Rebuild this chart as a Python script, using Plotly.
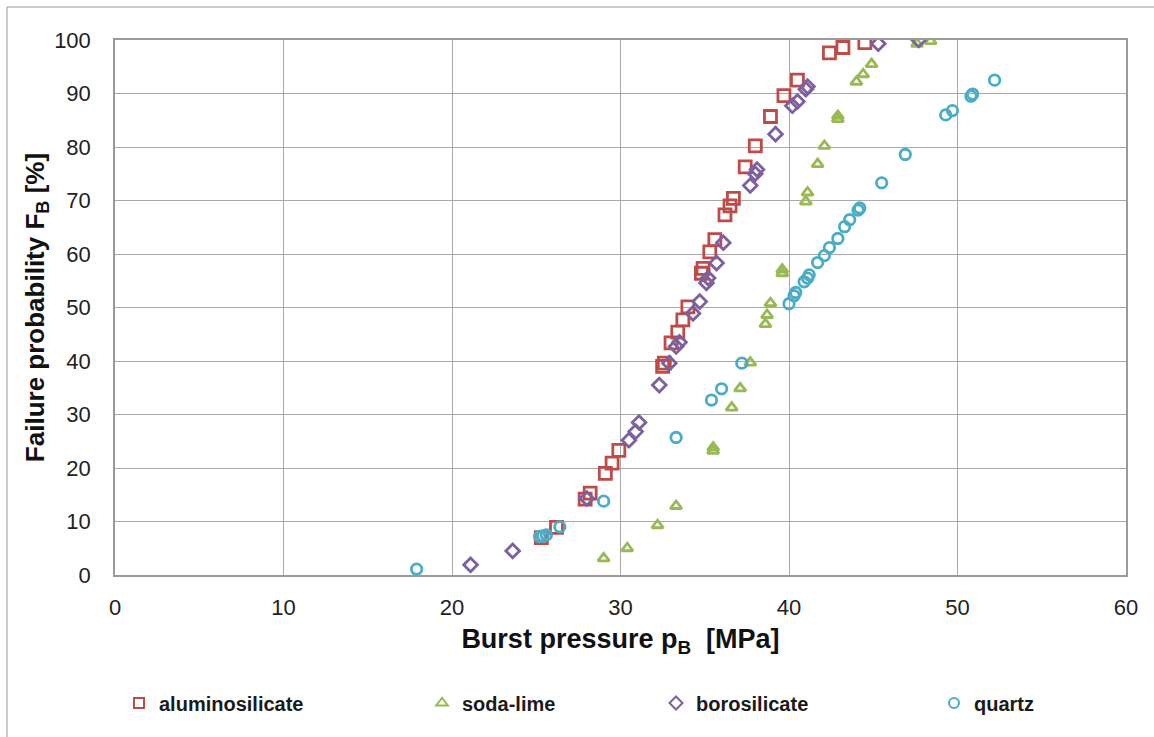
import plotly.graph_objects as go

# ---- data (burst pressure [MPa], failure probability [%]) ----
alu_p = [25.3, 26.2, 27.9, 28.2, 29.1, 29.5, 29.9, 32.5, 32.6, 33.0, 33.4, 33.7, 34.0,
         34.8, 34.9, 35.3, 35.6, 36.2, 36.5, 36.7, 37.4, 38.0, 38.9, 39.7, 40.5, 42.4,
         43.2, 44.5]
alu_f = [7.0, 8.9, 14.2, 15.3, 19.0, 20.9, 23.3, 39.0, 39.6, 43.4, 45.4, 47.7, 50.1,
         56.4, 57.3, 60.4, 62.7, 67.3, 69.0, 70.4, 76.3, 80.2, 85.7, 89.6, 92.5, 97.6,
         98.6, 99.5]

soda_p = [29.0, 30.4, 32.2, 33.3, 35.5, 35.5, 36.6, 37.1, 37.7, 38.6, 38.7, 38.9, 39.6,
          39.6, 41.0, 41.1, 41.7, 42.1, 42.9, 42.9, 44.0, 44.4, 44.9, 47.6, 48.4]
soda_f = [3.1, 5.0, 9.3, 12.9, 23.2, 23.8, 31.3, 34.9, 39.7, 46.9, 48.6, 50.8, 56.4,
          57.1, 69.8, 71.5, 76.8, 80.2, 85.2, 85.8, 92.2, 93.6, 95.5, 99.3, 99.8]

boro_p = [21.1, 23.6, 28.0, 30.5, 30.9, 31.1, 32.3, 32.9, 33.3, 33.5, 34.3, 34.7, 35.1,
          35.2, 35.7, 36.1, 37.7, 38.0, 38.1, 39.2, 40.2, 40.5, 41.0, 41.1, 45.3, 47.7]
boro_f = [1.9, 4.5, 14.3, 25.2, 26.8, 28.5, 35.5, 39.6, 42.7, 43.5, 48.9, 51.1, 54.6,
          55.5, 58.3, 62.1, 72.8, 75.0, 75.8, 82.4, 87.7, 88.5, 90.8, 91.3, 99.3, 100.0]

quartz_p = [17.9, 25.2, 25.4, 25.6, 26.4, 29.0, 33.3, 35.4, 36.0, 37.2, 40.0, 40.3,
            40.4, 40.9, 41.1, 41.2, 41.7, 42.1, 42.4, 42.9, 43.3, 43.6, 44.1, 44.2,
            45.5, 46.9, 49.3, 49.7, 50.8, 50.9, 52.2]
quartz_f = [1.1, 7.2, 7.3, 7.5, 9.0, 13.8, 25.7, 32.7, 34.8, 39.6, 50.7, 52.2, 52.8,
            54.8, 55.5, 56.1, 58.4, 59.7, 61.2, 62.9, 65.1, 66.4, 68.2, 68.6, 73.3,
            78.6, 86.0, 86.8, 89.5, 89.9, 92.5]

names = ["aluminosilicate", "soda-lime", "borosilicate", "quartz"]
x_ticks = [0, 10, 20, 30, 40, 50, 60]
y_ticks = [0, 10, 20, 30, 40, 50, 60, 70, 80, 90, 100]

series = [
    (alu_p, alu_f, "square-open", "#BE4B48", 12),
    (soda_p, soda_f, "triangle-up-open", "#98B954", 10),
    (boro_p, boro_f, "diamond-open", "#7D60A0", 10.5),
    (quartz_p, quartz_f, "circle-open", "#4BACC6", 10.5),
]

fig = go.Figure()
legend_ids = ["legend", "legend2", "legend3", "legend4"]
for (xs, ys, sym, col, sz), nm, lg in zip(series, names, legend_ids):
    fig.add_trace(go.Scatter(
        x=xs, y=ys, mode="markers", name=nm, showlegend=False,
        marker=dict(symbol=sym, size=sz, color=col, line=dict(color=col, width=2.8)),
    ))
    # legend entry with smaller symbol
    fig.add_trace(go.Scatter(
        x=[None], y=[None], mode="markers", name="<b>" + nm + "</b>", legend=lg,
        showlegend=True,
        marker=dict(symbol=sym, size=10, color=col, line=dict(color=col, width=2)),
    ))

W, H = 1154, 737
L, R, T, B = 115, 28, 40, 162
pw, ph = W - L - R, H - T - B


def px_x(p):
    return (p - L) / pw


def px_y(p):
    return (H - B - p) / ph


legend_font = dict(family="Liberation Sans, Arial, sans-serif", size=20, color="#1a1a1a")
leg_common = dict(orientation="h", xanchor="left", yanchor="middle",
                  font=legend_font, bgcolor="rgba(0,0,0,0)", borderwidth=0,
                  itemwidth=30, tracegroupgap=0)
leg_x = [119, 422, 656, 934]
layout_legends = {}
for lg, lx in zip(legend_ids, leg_x):
    layout_legends[lg] = dict(x=px_x(lx), y=px_y(703), **leg_common)

axis_font = dict(family="Liberation Sans, Arial, sans-serif", size=22, color="#222222")
xtitle_font = dict(family="Liberation Sans, Arial, sans-serif", size=27, color="#111111")
ytitle_font = dict(family="Liberation Sans, Arial, sans-serif", size=26, color="#111111")

fig.update_layout(
    width=W, height=H,
    margin=dict(l=L, r=R, t=T, b=B),
    paper_bgcolor="white", plot_bgcolor="white",
    xaxis=dict(range=[0, 60], tickvals=x_ticks, ticktext=[str(v) for v in x_ticks],
               showgrid=True, gridcolor="#A8A8A8", gridwidth=1,
               showline=True, linecolor="#9A9A9A", linewidth=1.5, mirror=True,
               zeroline=False, ticks="", tickfont=axis_font, ticklabelstandoff=12,
               title=dict(text="<b>Burst pressure p<sub>B</sub> &nbsp;[MPa]</b>",
                          font=xtitle_font, standoff=10)),
    yaxis=dict(range=[0, 100], tickvals=y_ticks, ticktext=[str(v) for v in y_ticks],
               showgrid=True, gridcolor="#A8A8A8", gridwidth=1,
               showline=True, linecolor="#9A9A9A", linewidth=1.5, mirror=True,
               zeroline=False, ticks="", tickfont=axis_font, ticklabelstandoff=18,
               title=dict(text="<b>Failure probability F<sub>B</sub> [%]</b>",
                          font=ytitle_font, standoff=2)),
    showlegend=True,
    **layout_legends,
)

# outer chart frame (top and left edges visible in the reference)
fig.add_shape(type="line", xref="paper", yref="paper",
              x0=px_x(7), x1=px_x(W), y0=px_y(7), y1=px_y(7),
              line=dict(color="#9A9A9A", width=1))
fig.add_shape(type="line", xref="paper", yref="paper",
              x0=px_x(7), x1=px_x(7), y0=px_y(7), y1=px_y(H),
              line=dict(color="#9A9A9A", width=1))

fig.write_html("out.html")
